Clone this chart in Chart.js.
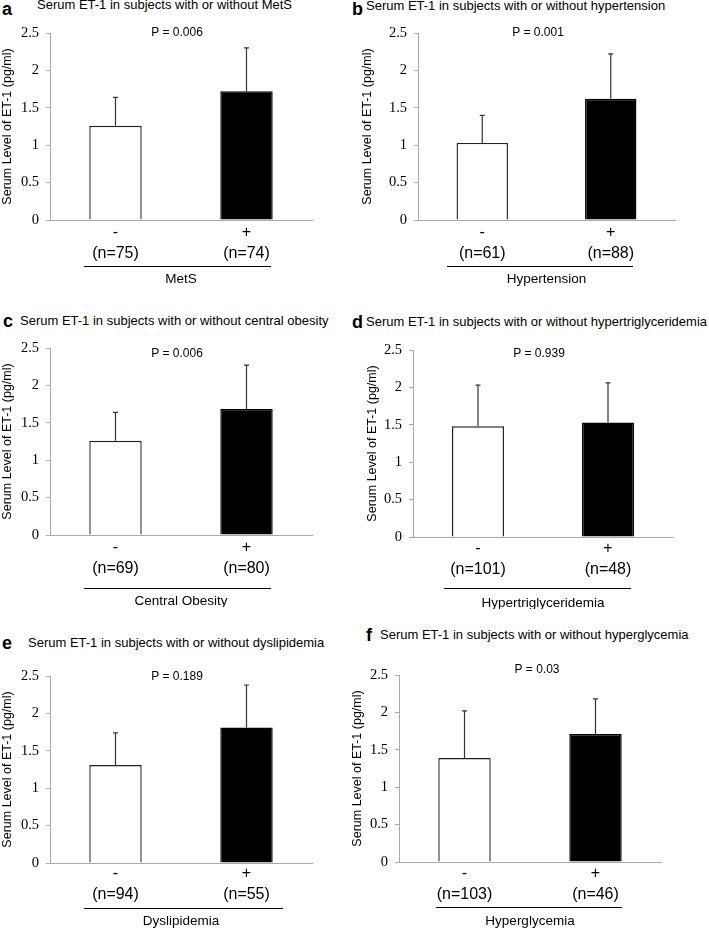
<!DOCTYPE html>
<html>
<head>
<meta charset="utf-8">
<script src="https://cdn.jsdelivr.net/npm/chart.js@4.4.1/dist/chart.umd.min.js"></script>
<style>
  body { margin: 0; background: #fff; }
  #page { position: relative; width: 709px; height: 928px; overflow: hidden; background: #fff; }
  canvas { position: absolute; }
  .letter { position: absolute; font: bold 18px 'Liberation Sans', Arial, sans-serif; line-height: 18px; color: #000; }
  .head { position: absolute; font: 13px 'Liberation Sans', Arial, sans-serif; line-height: 16px; color: #000; white-space: nowrap; }
</style>
</head>
<body>
<div id="page"></div>
<script>
// data
const panelLetters = ['a', 'b', 'c', 'd', 'e', 'f'];
const panelTitles = [
    'Serum ET-1 in subjects with or without MetS',
    'Serum ET-1 in subjects with or without hypertension',
    'Serum ET-1 in subjects with or without central obesity',
    'Serum ET-1 in subjects with or without hypertriglyceridemia',
    'Serum ET-1 in subjects with or without dyslipidemia',
    'Serum ET-1 in subjects with or without hyperglycemia'
];
const groupNames = ['MetS', 'Hypertension', 'Central Obesity', 'Hypertriglyceridemia', 'Dyslipidemia', 'Hyperglycemia'];
const signs = ['-', '+'];
const nWithout = [75, 61, 69, 101, 94, 103];
const nWith = [74, 88, 80, 48, 55, 46];
const meanWithout = [1.26, 1.03, 1.26, 1.48, 1.31, 1.39];
const meanWith = [1.72, 1.62, 1.685, 1.53, 1.81, 1.71];
const sdWithout = [0.38, 0.37, 0.38, 0.55, 0.43, 0.63];
const sdWith = [0.58, 0.60, 0.585, 0.53, 0.57, 0.47];
const pValues = ['P = 0.006', 'P = 0.001', 'P = 0.006', 'P = 0.939', 'P = 0.189', 'P = 0.03'];
const yTickValues = [0, 0.5, 1, 1.5, 2, 2.5];
const yTickLabels = ['0', '0.5', '1', '1.5', '2', '2.5'];

// where each panel sits on the page (page pixels)
const layout = [
    { area: [50, 33, 312, 220], yTitleX: 8, p: [177, 33], line: [84, 271, 266], groupY: 279, tickPad: 2, letter: [2, 0], head: [37, 5] },
    { area: [418, 33, 675, 220], yTitleX: 368, p: [538, 33], line: [447, 633, 266], groupY: 279, tickPad: 2, letter: [352, 0], head: [366, 6] },
    { area: [50, 348, 312, 535], yTitleX: 8, p: [177, 354], line: [84, 271, 588], groupY: 601, tickPad: 2, letter: [3, 312], head: [20, 321] },
    { area: [413, 350, 673, 537], yTitleX: 373, p: [539, 354], line: [444, 631, 588], groupY: 603, tickPad: 1, letter: [352, 313], head: [366, 322] },
    { area: [50, 676, 312, 863], yTitleX: 8, p: [177, 677], line: [84, 283, 908], groupY: 921, tickPad: 0, letter: [2, 634], head: [28, 643] },
    { area: [399, 675, 661, 862], yTitleX: 358, p: [537, 670], line: [436, 622, 907], groupY: 921, tickPad: 1, letter: [366, 626], head: [380, 635] }
];

const sansFont = "'Liberation Sans', Arial, sans-serif";
const serifFont = "'Liberation Serif', 'Times New Roman', serif";

const errorBarPlugin = {
    id: 'errorBars',
    afterDatasetsDraw(chart, args, opts) {
        const ctx = chart.ctx;
        const yScale = chart.scales.y;
        const meta = chart.getDatasetMeta(0);
        const ds = chart.data.datasets[0];
        ctx.save();
        ctx.strokeStyle = '#333';
        ctx.lineWidth = 1.2;
        meta.data.forEach((bar, i) => {
            const top = yScale.getPixelForValue(ds.data[i] + opts.sd[i]);
            ctx.beginPath();
            ctx.moveTo(bar.x, bar.y);
            ctx.lineTo(bar.x, top);
            ctx.moveTo(bar.x - 2.5, top);
            ctx.lineTo(bar.x + 2.5, top);
            ctx.stroke();
        });
        ctx.restore();
    }
};

const annotationPlugin = {
    id: 'panelNotes',
    afterDraw(chart, args, opts) {
        const ctx = chart.ctx;
        ctx.save();
        ctx.fillStyle = '#000';
        ctx.font = '12px ' + sansFont;
        ctx.textAlign = 'center';
        ctx.textBaseline = 'middle';
        ctx.fillText(opts.pText, opts.pX, opts.pY);
        ctx.strokeStyle = '#000';
        ctx.lineWidth = 1;
        ctx.beginPath();
        ctx.moveTo(opts.lineX0, opts.lineY + 0.5);
        ctx.lineTo(opts.lineX1, opts.lineY + 0.5);
        ctx.stroke();
        ctx.restore();
    }
};

const page = document.getElementById('page');

panelLetters.forEach((letter, k) => {
    const L = layout[k];
    const [aL, aT, aR, aB] = L.area;
    const cLeft = Math.round(L.yTitleX - 8);
    const cTop = aT - 16;
    const cRight = aR + 20;
    const cBottom = aB + 72;
    const w = cRight - cLeft;
    const h = cBottom - cTop;

    const letterDiv = document.createElement('div');
    letterDiv.className = 'letter';
    letterDiv.style.left = L.letter[0] + 'px';
    letterDiv.style.top = L.letter[1] + 'px';
    letterDiv.textContent = letter;
    page.appendChild(letterDiv);

    const headDiv = document.createElement('div');
    headDiv.className = 'head';
    headDiv.style.left = L.head[0] + 'px';
    headDiv.style.top = (L.head[1] - 8) + 'px';
    headDiv.textContent = panelTitles[k];
    page.appendChild(headDiv);

    const canvas = document.createElement('canvas');
    canvas.width = w;
    canvas.height = h;
    canvas.style.left = cLeft + 'px';
    canvas.style.top = cTop + 'px';
    canvas.style.width = w + 'px';
    canvas.style.height = h + 'px';
    page.appendChild(canvas);

    const tickLabels = [
        [signs[0], '(n=' + nWithout[k] + ')'],
        [signs[1], '(n=' + nWith[k] + ')']
    ];
    const groupLH = 15;
    const groupPad = cBottom - groupLH / 2 - L.groupY;

    new Chart(canvas.getContext('2d'), {
        type: 'bar',
        data: {
            labels: tickLabels,
            datasets: [{
                data: [meanWithout[k], meanWith[k]],
                backgroundColor: ['#ffffff', '#000000'],
                borderColor: ['#222222', '#000000'],
                borderWidth: 1.4,
                borderSkipped: 'bottom',
                categoryPercentage: 1,
                barPercentage: 0.4
            }]
        },
        options: {
            responsive: false,
            animation: false,
            devicePixelRatio: 1,
            layout: { padding: { top: aT - cTop, right: cRight - aR, left: 0, bottom: 0 } },
            plugins: {
                legend: { display: false },
                tooltip: { enabled: false },
                errorBars: { sd: [sdWithout[k], sdWith[k]] },
                panelNotes: {
                    pText: pValues[k],
                    pX: L.p[0] - cLeft,
                    pY: L.p[1] - cTop,
                    lineX0: L.line[0] - cLeft,
                    lineX1: L.line[1] - cLeft,
                    lineY: L.line[2] - cTop
                }
            },
            scales: {
                x: {
                    grid: { display: false, drawTicks: false },
                    border: { display: true, color: '#aaaaaa', width: 1 },
                    ticks: {
                        color: '#000',
                        font: { family: sansFont, size: 16, lineHeight: 1.3 },
                        padding: L.tickPad,
                        maxRotation: 0,
                        autoSkip: false
                    },
                    title: {
                        display: true,
                        text: groupNames[k],
                        color: '#000',
                        font: { family: sansFont, size: 13.5, lineHeight: groupLH / 13.5 },
                        padding: { top: 0, bottom: groupPad }
                    },
                    afterFit(scale) { scale.height = cBottom - aB; }
                },
                y: {
                    min: 0,
                    max: 2.5,
                    afterBuildTicks(scale) { scale.ticks = yTickValues.map(v => ({ value: v })); },
                    grid: { display: true, drawOnChartArea: false, drawTicks: true, tickLength: 4, color: '#aaaaaa' },
                    border: { display: true, color: '#aaaaaa', width: 1 },
                    ticks: {
                        color: '#000',
                        font: { family: serifFont, size: 14.5 },
                        padding: 7,
                        callback: (value) => yTickLabels[yTickValues.indexOf(value)]
                    },
                    title: {
                        display: true,
                        text: 'Serum Level of ET-1 (pg/ml)',
                        color: '#000',
                        font: { family: sansFont, size: 12.5, lineHeight: 1.2 },
                        padding: { top: 0, bottom: 0 }
                    },
                    afterFit(scale) { scale.width = aL - cLeft; }
                }
            }
        },
        plugins: [errorBarPlugin, annotationPlugin]
    });
});
</script>
</body>
</html>
